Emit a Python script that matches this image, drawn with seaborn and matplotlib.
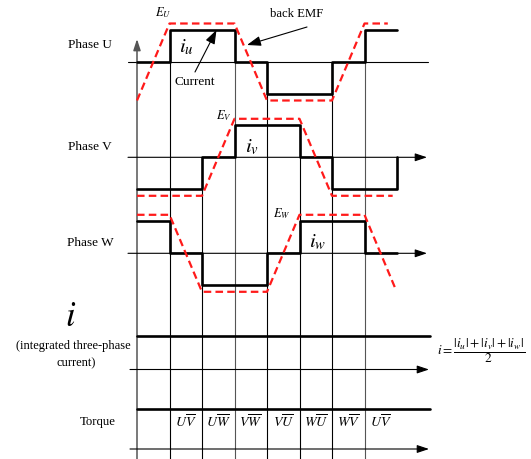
import matplotlib
matplotlib.use("Agg")
import matplotlib.pyplot as plt
import numpy as np
import pandas as pd
import seaborn as sns

# ---- data ---------------------------------------------------------------
# electrical angle (deg) at each commutation instant
angle = [0, 60, 120, 180, 240, 300, 360, 420, 480]

# phase currents per 60-degree interval (+1 positive, 0 off, -1 negative)
i_u = [0, 1, 1, 0, -1, -1, 0, 1, 1]
i_v = [-1, -1, 0, 1, 1, 0, -1, -1, 0]
i_w = [1, 0, -1, -1, 0, 1, 1, 0, 0]

# trapezoidal back EMF breakpoints
emf_u_angle = [0, 60, 180, 240, 360, 420, 463]
emf_u = [-1, 1, 1, -1, -1, 1, 1]
emf_v_angle = [0, 120, 180, 300, 360, 472]
emf_v = [-1, -1, 1, 1, -1, -1]
emf_w_angle = [0, 60, 120, 240, 300, 420, 478]
emf_w = [1, 1, -1, -1, 1, 1, -0.95]

# torque (constant over every interval)
torque = [1, 1, 1, 1, 1, 1, 1, 1]

# conducting phase pair in each interval
pairs = [r"$U\overline{V}$", r"$U\overline{W}$", r"$V\overline{W}$",
         r"$V\overline{U}$", r"$W\overline{U}$", r"$W\overline{V}$",
         r"$U\overline{V}$"]
pair_start = [60, 120, 180, 240, 300, 360, 420]

# integrated three-phase current for each 60-degree interval
i_sum = [(abs(a) + abs(b) + abs(c)) / 2
         for a, b, c in zip(i_u[:-1], i_v[:-1], i_w[:-1])]

# ---- layout -------------------------------------------------------------
W_PX, H_PX = 531, 459
X0, UNIT = 137.0, 32.5          # pixel x of 0 deg, pixels per 60 deg
AXIS_END = 540                  # angle where the time axes end


def deg(xpx):
    return (xpx - X0) * 60.0 / UNIT


panels = {  # name: (baseline px, current amplitude px, emf amplitude px)
    "U": (62.0, 32.0, 38.5),
    "V": (157.3, 32.0, 38.5),
    "W": (253.3, 32.0, 38.5),
}
I_BASE, I_AMP = 369.5, 33.5
T_BASE, T_AMP = 449.0, 40.0

sns.set_theme(style="white")
plt.rcParams["font.family"] = ["Liberation Serif", "DejaVu Serif"]
plt.rcParams["mathtext.fontset"] = "stix"

fig = plt.figure(figsize=(W_PX / 100, H_PX / 100), dpi=100)
ax = fig.add_axes([0, 0, 1, 1])
ax.set_xlim(deg(0), deg(W_PX))
ax.set_ylim(H_PX, 0)
ax.axis("off")

RED = "#ff1a1a"
currents = {"U": i_u, "V": i_v, "W": i_w}
emfs = {"U": (emf_u_angle, emf_u), "V": (emf_v_angle, emf_v),
        "W": (emf_w_angle, emf_w)}


def arrow(x0, y0, x1, y1, color="black", lw=0.8, hl=0.6, hw=0.2):
    ax.annotate("", xy=(x1, y1), xytext=(x0, y0),
                arrowprops=dict(arrowstyle=f"-|>,head_length={hl},head_width={hw}",
                                color=color, lw=lw, shrinkA=0, shrinkB=0))


# vertical commutation lines: start at the first phase that switches there
for k, a in enumerate(angle[1:-1], start=1):
    top = None
    for name in ("U", "V", "W"):
        cur = currents[name]
        if cur[k] != cur[k - 1]:
            top = panels[name][0]
            break
    col = "#555555" if a in (180, 420) else "black"
    ax.plot([a, a], [top, H_PX], color=col, lw=0.8, zorder=1)

# vertical time origin axis
arrow(0, H_PX, 0, 39, color="#555555", lw=1.1, hl=0.55, hw=0.18)

# horizontal axes
ax.plot([deg(128), deg(428)], [62, 62], color="black", lw=0.8, zorder=1)
arrow(deg(128), panels["V"][0], deg(427), panels["V"][0])
arrow(deg(128), panels["W"][0], deg(427), panels["W"][0])
arrow(deg(130), I_BASE, deg(429), I_BASE)
arrow(deg(130), T_BASE, deg(429), T_BASE)

# phase waveforms
for name, (base, ia, ea) in panels.items():
    df_i = pd.DataFrame({"angle": angle,
                         "y": [base - ia * v for v in currents[name]]})
    sns.lineplot(data=df_i, x="angle", y="y", ax=ax, color="black", lw=1.9,
                 drawstyle="steps-post", estimator=None, sort=False,
                 legend=False, zorder=3)
    ea_x, ea_v = emfs[name]
    df_e = pd.DataFrame({"angle": ea_x, "y": [base - ea * v for v in ea_v]})
    sns.lineplot(data=df_e, x="angle", y="y", ax=ax, color=RED, lw=1.6,
                 dashes=False, linestyle=(0, (3.4, 1.9)), estimator=None,
                 sort=False, legend=False, zorder=4)

# integrated current and torque, held to the end of the time axis
seg_x = angle[:-1] + [AXIS_END]
df_sum = pd.DataFrame({"angle": seg_x,
                       "y": [I_BASE - I_AMP * v for v in i_sum + [i_sum[-1]]]})
sns.lineplot(data=df_sum, x="angle", y="y", ax=ax, color="black", lw=1.9,
             drawstyle="steps-post", estimator=None, sort=False,
             legend=False, zorder=3)
df_t = pd.DataFrame({"angle": seg_x,
                     "y": [T_BASE - T_AMP * v for v in torque + [torque[-1]]]})
sns.lineplot(data=df_t, x="angle", y="y", ax=ax, color="black", lw=1.9,
             drawstyle="steps-post", estimator=None, sort=False,
             legend=False, zorder=3)

ax.set_xlabel("")
ax.set_ylabel("")

# row titles
txt = dict(ha="center", va="center", color="black")
ax.text(deg(89.5), 45, "Phase U", fontsize=9.5, **txt)
ax.text(deg(90), 146.5, "Phase V", fontsize=9.5, **txt)
ax.text(deg(90.5), 242.5, "Phase W", fontsize=9.5, **txt)
ax.text(deg(71), 317, r"$i$", fontsize=25, **txt)
ax.text(deg(73), 346, "(integrated three-phase", fontsize=9, **txt)
ax.text(deg(76), 363, "current)", fontsize=9, **txt)
ax.text(deg(98), 422, "Torque", fontsize=9.2, **txt)

# waveform labels
ax.text(deg(163), 13, r"$E_U$", fontsize=9, **txt)
ax.text(deg(224), 116, r"$E_V$", fontsize=9, **txt)
ax.text(deg(282), 214, r"$E_W$", fontsize=9, **txt)
ax.text(deg(186), 47, r"$i_u$", fontsize=15, **txt)
ax.text(deg(252), 147, r"$i_v$", fontsize=15, **txt)
ax.text(deg(318), 242, r"$i_w$", fontsize=15, **txt)

# callouts
ax.text(deg(195), 82, "Current", fontsize=9.5, **txt)
arrow(deg(195), 72, deg(216.5), 30, lw=0.8, hl=0.7, hw=0.25)
ax.text(deg(297), 14, "back EMF", fontsize=9.2, **txt)
arrow(deg(307), 27, deg(247), 45, lw=0.8, hl=0.7, hw=0.25)

# conduction pair labels
for a, lab in zip(pair_start, pairs):
    ax.text(a + 30, 422, lab, fontsize=10, **txt)

# formula for the integrated current
ax.text(deg(481), 351, r"$i=\dfrac{|i_u|+|i_v|+|i_w|}{2}$", fontsize=9.5, **txt)

fig.savefig("out.png", dpi=100, facecolor="white")
